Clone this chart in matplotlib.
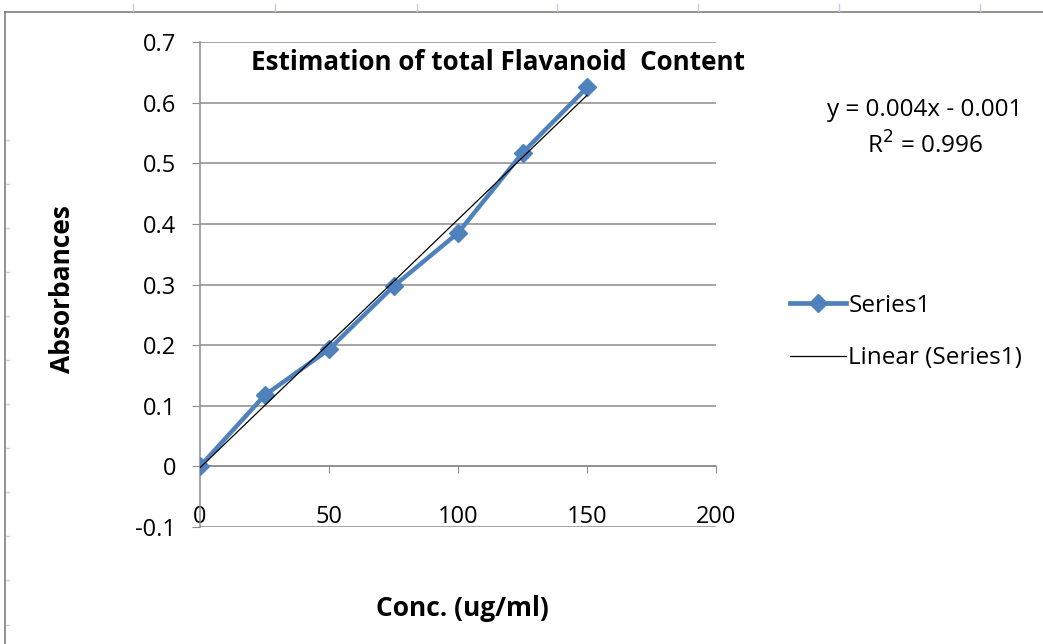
import numpy as np
import matplotlib
matplotlib.use("Agg")
import matplotlib.pyplot as plt
from matplotlib.lines import Line2D

plt.rcParams["font.family"] = ["Open Sans", "DejaVu Sans"]

# data
conc = [0, 25, 50, 75, 100, 125, 150]
absorb = [0.0, 0.117, 0.193, 0.297, 0.385, 0.517, 0.625]
x_ticks = [0, 50, 100, 150, 200]
y_ticks = [-0.1, 0, 0.1, 0.2, 0.3, 0.4, 0.5, 0.6, 0.7]
y_tick_labels = ["-0.1", "0", "0.1", "0.2", "0.3", "0.4", "0.5", "0.6", "0.7"]

BLUE = "#4F81BD"
GRID = "#8c8c8c"

fig = plt.figure(figsize=(10.43, 6.44), dpi=100)
ax = fig.add_axes([200 / 1043, 117 / 644, 516 / 1043, 485 / 644])

# linear trendline from the data
slope, icpt = np.polyfit(conc, absorb, 1)
xs = np.array([conc[0], conc[-1]])
ax.plot(xs, slope * xs + icpt, color="black", lw=0.9, zorder=4)
ax.plot(conc, absorb, color=BLUE, lw=3.2, marker="D", ms=9,
        markeredgecolor=BLUE, zorder=3)

ax.set_xlim(0, 200)
ax.set_ylim(-0.1, 0.7)
ax.set_yticks(y_ticks)
ax.set_yticklabels(y_tick_labels)
ax.set_xticks(x_ticks)
ax.grid(True, axis="y", color=GRID, lw=1.1)
ax.set_axisbelow(True)

for s in ("top", "right"):
    ax.spines[s].set_visible(False)
ax.spines["bottom"].set_position(("data", 0))
ax.spines["bottom"].set_color(GRID)
ax.spines["left"].set_color(GRID)
ax.spines["bottom"].set_linewidth(1.1)
ax.spines["left"].set_linewidth(1.1)
ax.tick_params(axis="x", direction="out", length=5, color=GRID, pad=23,
               labelsize=17)
ax.tick_params(axis="y", direction="out", length=6, color=GRID, pad=11,
               labelsize=17)

ax.text(0.578, 0.958, "Estimation of total Flavanoid  Content",
        transform=ax.transAxes, ha="center", va="center",
        fontsize=18.7, fontweight="bold")
fig.text(63 / 1043, 1 - 289 / 644, "Absorbances", rotation=90,
         ha="center", va="center", fontsize=19, fontweight="bold")
fig.text(462 / 1043, 1 - 608 / 644, "Conc. (ug/ml)",
         ha="center", va="center", fontsize=19, fontweight="bold")

fig.text(925 / 1043, 1 - 110 / 644, "y = 0.004x - 0.001",
         ha="center", va="center", fontsize=17.5)
fig.text(925 / 1043, 1 - 146 / 644, "R$^2$ = 0.996",
         ha="center", va="center", fontsize=17.5)

handles = [Line2D([], [], color=BLUE, lw=3.4, marker="D", ms=9),
           Line2D([], [], color="black", lw=0.9)]
fig.legend(handles, ["Series1", "Linear (Series1)"],
           loc="center left", bbox_to_anchor=(778 / 1043, 1 - 332 / 644),
           frameon=False, fontsize=17.5, handlelength=2.3, handletextpad=0.1,
           labelspacing=1.17, borderpad=0)

# chart frame and sheet ruler marks
fig.add_artist(Line2D([5 / 1043, 5 / 1043], [0, 1 - 12 / 644],
                      transform=fig.transFigure, color="#7f7f7f", lw=1.2))
fig.add_artist(Line2D([5 / 1043, 1], [1 - 12 / 644, 1 - 12 / 644],
                      transform=fig.transFigure, color="#7f7f7f", lw=1.2))
for px in [133, 275, 417, 557, 698, 839, 980]:
    fig.add_artist(Line2D([px / 1043, px / 1043], [1 - 4 / 644, 1 - 11 / 644],
                          transform=fig.transFigure, color="#c8cde0", lw=1))
for py in [140, 184, 228, 272, 316, 360, 404, 448, 492, 536, 580, 625]:
    fig.add_artist(Line2D([6 / 1043, 9 / 1043], [1 - py / 644, 1 - py / 644],
                          transform=fig.transFigure, color="#c8cde0", lw=1))

fig.savefig("out.png", dpi=100)
